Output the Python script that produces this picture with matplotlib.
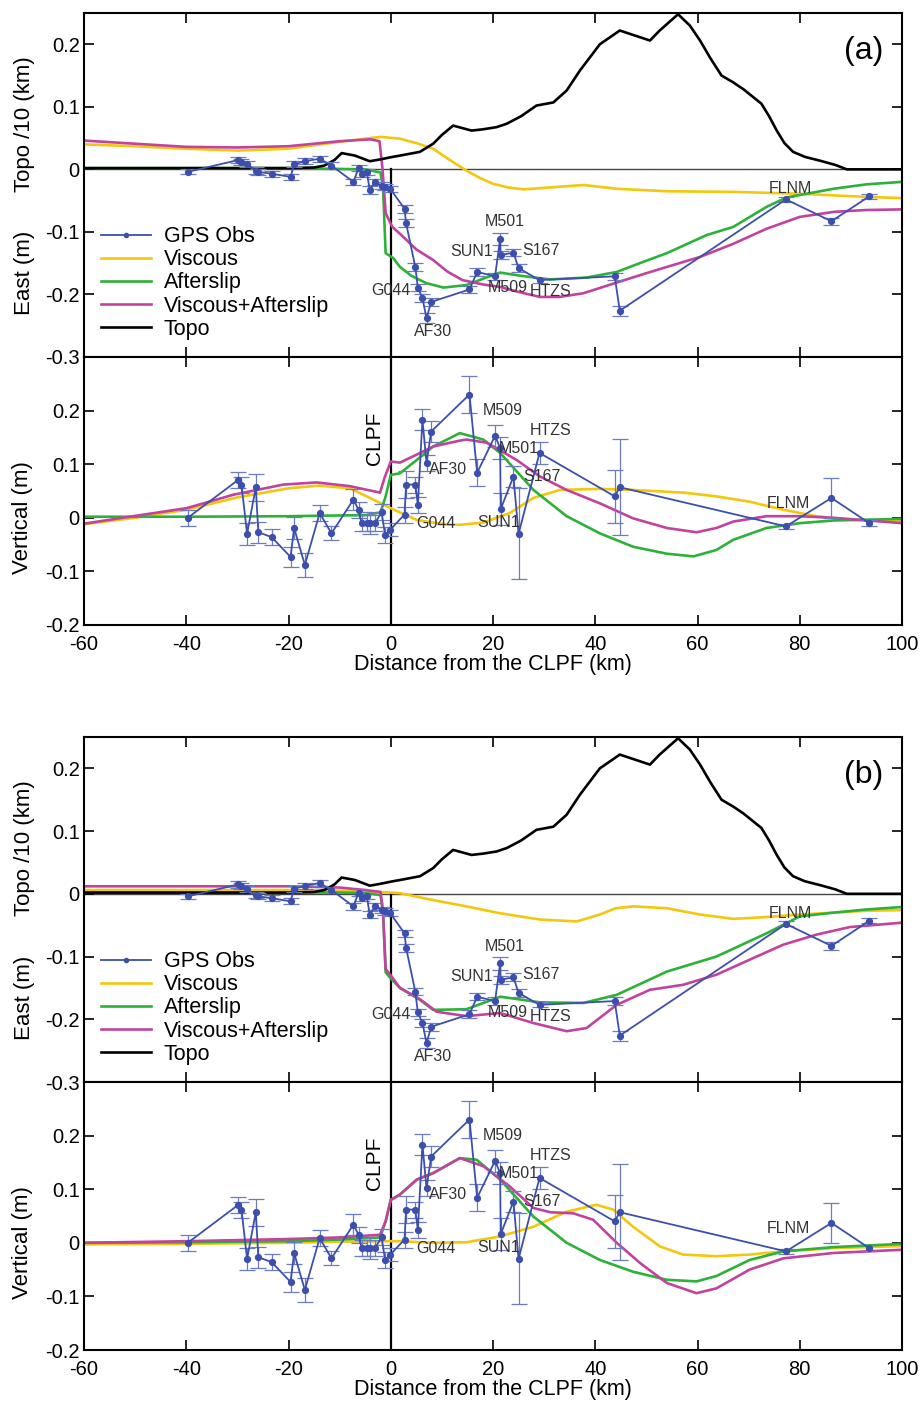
import matplotlib
matplotlib.use('Agg')
import matplotlib.pyplot as plt
import matplotlib.transforms as mtransforms

plt.rcParams['font.family'] = ['Liberation Sans', 'DejaVu Sans']
plt.rcParams['axes.unicode_minus'] = False

# GPS stations (distance from CLPF, km) with east / vertical displacement (m)
gps_x = [-39.7, -29.8, -29.2, -28.1, -26.4, -25.9, -23.3, -19.6, -18.9, -16.8,
         -13.9, -11.6, -7.3, -6.3, -5.7, -4.7, -4.1, -3.1, -1.8, -1.1, -0.1,
         2.7, 3.0, 4.8, 5.3, 6.2, 7.0, 7.9, 15.4, 16.9, 20.4, 21.4, 21.5, 24.0,
         25.0, 29.1, 43.8, 44.8, 77.3, 86.2, 93.6]
east_obs = [-0.004, 0.015, 0.012, 0.008, -0.002, -0.004, -0.007, -0.012, 0.008, 0.013,
            0.017, 0.006, -0.020, 0.002, -0.007, -0.004, -0.033, -0.020, -0.026, -0.028, -0.031,
            -0.063, -0.086, -0.156, -0.189, -0.206, -0.238, -0.212, -0.192, -0.164, -0.171, -0.111, -0.137, -0.133,
            -0.158, -0.177, -0.171, -0.226, -0.048, -0.083, -0.043]
east_err = [0.004, 0.005, 0.005, 0.005, 0.005, 0.005, 0.005, 0.005, 0.005, 0.005,
            0.005, 0.005, 0.005, 0.005, 0.005, 0.005, 0.006, 0.005, 0.005, 0.005, 0.005,
            0.006, 0.006, 0.006, 0.006, 0.006, 0.008, 0.006, 0.006, 0.006, 0.006, 0.010, 0.006, 0.006,
            0.006, 0.004, 0.006, 0.008, 0.004, 0.006, 0.004]
vert_obs = [0.000, 0.071, 0.062, -0.030, 0.057, -0.027, -0.036, -0.073, -0.019, -0.088,
            0.009, -0.029, 0.034, 0.015, -0.010, -0.010, -0.010, -0.010, 0.010, -0.032, -0.022,
            0.006, 0.062, 0.062, 0.024, 0.183, 0.102, 0.161, 0.230, 0.084, 0.153, 0.130, 0.016, 0.077,
            -0.030, 0.121, 0.040, 0.057, -0.016, 0.037, -0.010]
vert_err = [0.015, 0.015, 0.015, 0.020, 0.025, 0.020, 0.015, 0.018, 0.020, 0.022,
            0.015, 0.013, 0.020, 0.015, 0.015, 0.015, 0.020, 0.015, 0.015, 0.015, 0.012,
            0.015, 0.025, 0.015, 0.015, 0.020, 0.015, 0.020, 0.035, 0.025, 0.020, 0.020, 0.030, 0.020,
            0.085, 0.020, 0.050, 0.090, 0.004, 0.038, 0.005]

# station labels: name, x, y
east_labels = [('G044', 0.0, -0.193), ('AF30', 8.3, -0.260), ('SUN1', 15.8, -0.132),
               ('M501', 22.3, -0.084), ('S167', 29.4, -0.129), ('M509', 22.9, -0.189),
               ('HTZS', 31.2, -0.196), ('FLNM', 78.1, -0.031)]
vert_labels = [('G044', 8.9, -0.010), ('AF30', 11.3, 0.091), ('M509', 22.0, 0.200),
               ('HTZS', 31.2, 0.163), ('M501', 25.0, 0.130), ('S167', 29.5, 0.077),
               ('SUN1', 21.0, -0.009), ('FLNM', 77.8, 0.026)]

# topography / 10 (km)
topo_x = [-60, -40, -20, -15, -13, -11, -9.6, -7, -4.1, -2, 0.4, 1.8, 5.7, 8.3, 10, 12.2, 15.8,
          18, 20.7, 22.7, 25.5, 28.5, 31.8, 34.4, 37.0, 40.9, 44.8, 50.7, 52.6, 56.2, 58.5,
          60.5, 62.5, 64.7, 67.0, 69, 72.5, 74, 75.5, 77, 78.7, 81, 83.9, 87, 89.2, 91, 100]
topo_y = [0.002, 0.002, 0.002, 0.003, 0.006, 0.015, 0.026, 0.022, 0.013, 0.016, 0.020, 0.022,
          0.028, 0.041, 0.055, 0.070, 0.062, 0.064, 0.0675, 0.073, 0.085, 0.102, 0.107, 0.126,
          0.158, 0.200, 0.222, 0.206, 0.222, 0.248, 0.230, 0.206, 0.178, 0.150, 0.139, 0.128,
          0.105, 0.085, 0.062, 0.042, 0.028, 0.020, 0.014, 0.007, 0.0, 0.0, 0.0]

# ---- panel (a) model curves ----
a_east_visc_x = [-60, -50, -40, -30, -20, -10, -5, -2, 1.8, 5, 8.3, 11, 14.8, 17.5, 20, 23, 26,
                 31, 37.7, 44.2, 54, 67, 80, 93, 100]
a_east_visc_y = [0.040, 0.037, 0.033, 0.030, 0.033, 0.044, 0.049, 0.052, 0.049, 0.042, 0.033,
                 0.018, -0.002, -0.014, -0.023, -0.029, -0.032, -0.029, -0.025, -0.031, -0.035,
                 -0.036, -0.039, -0.044, -0.046]
a_east_after_x = [-60, -40, -20, -5, -2, -1.5, -1.0, 0.5, 1.8, 4, 5.7, 7.0, 10.3, 14.8, 18, 21.4,
                  25.3, 31.1, 38.3, 44.2, 50, 54, 61.8, 67, 73.5, 77.4, 82, 86.6, 93, 100]
a_east_after_y = [0.002, 0.002, 0.002, 0.0, -0.005, -0.030, -0.134, -0.142, -0.156, -0.170,
                  -0.177, -0.182, -0.189, -0.185, -0.175, -0.165, -0.170, -0.176, -0.173, -0.164,
                  -0.146, -0.134, -0.105, -0.092, -0.060, -0.045, -0.038, -0.031, -0.024, -0.020]
a_east_both_x = [-60, -50, -40, -30, -20, -10, -4, -2.2, -1.6, -1.0, 0.3, 1.8, 5, 8.3, 11, 14,
                 18, 21.4, 25, 29.2, 33, 37.7, 44.2, 50, 54, 60.5, 67, 73.5, 80, 86.6, 93, 100]
a_east_both_y = [0.046, 0.041, 0.036, 0.035, 0.037, 0.045, 0.048, 0.045, 0.000, -0.070, -0.092,
                 -0.103, -0.128, -0.145, -0.163, -0.177, -0.184, -0.188, -0.196, -0.204, -0.204,
                 -0.198, -0.181, -0.166, -0.156, -0.140, -0.119, -0.095, -0.076, -0.068, -0.065,
                 -0.064]
a_vert_visc_x = [-60, -50, -40, -30, -20, -14, -8, -4.7, 0, 1.8, 5.1, 8.3, 11.6, 13.5, 18.1, 23.3,
                 27.9, 33.1, 40.9, 47.4, 57.2, 63.7, 70.2, 76.8, 83.3, 89.8, 100]
a_vert_visc_y = [-0.012, 0.0, 0.015, 0.038, 0.055, 0.060, 0.055, 0.040, 0.018, 0.010, -0.004,
                 -0.009, -0.013, -0.013, -0.009, 0.009, 0.037, 0.052, 0.054, 0.052, 0.047, 0.040,
                 0.030, 0.015, 0.003, -0.004, -0.006]
a_vert_after_x = [-60, -40, -20, -5, -2, -1, 0, 1.8, 5.1, 8.3, 13.5, 18.1, 21.4, 27.9, 34.4, 40.9,
                  47.4, 54, 59.2, 63.7, 67, 73.5, 80, 86.6, 100]
a_vert_after_y = [0.002, 0.002, 0.003, 0.005, 0.010, 0.040, 0.080, 0.083, 0.108, 0.133, 0.158,
                  0.146, 0.121, 0.052, 0.003, -0.029, -0.054, -0.067, -0.072, -0.060, -0.041,
                  -0.019, -0.010, -0.005, -0.002]
a_vert_both_x = [-60, -50.4, -39.9, -30.8, -21, -14.5, -8, -2.1, -1.2, 0, 1.8, 5.1, 8.3, 13.5,
                 14.8, 18.8, 24.6, 29.2, 34.4, 40.9, 47.4, 54, 59.8, 63.7, 67, 73.5, 80, 86.6, 100]
a_vert_both_y = [-0.011, 0.003, 0.018, 0.043, 0.062, 0.066, 0.059, 0.047, 0.075, 0.105, 0.103,
                 0.118, 0.133, 0.144, 0.146, 0.140, 0.108, 0.077, 0.052, 0.027, -0.001, -0.019,
                 -0.027, -0.019, -0.007, 0.003, 0.003, 0.000, -0.010]

# ---- panel (b) model curves ----
b_east_visc_x = [-60, -40, -20, -10, -5, 0, 1.8, 8.3, 14.8, 21.4, 29.2, 36.4, 40.9, 44, 47.4, 54,
                 60.5, 67, 73.5, 80, 86.6, 93, 100]
b_east_visc_y = [0.006, 0.006, 0.006, 0.005, 0.004, 0.002, 0.001, -0.010, -0.020, -0.031, -0.041,
                 -0.044, -0.033, -0.023, -0.020, -0.023, -0.033, -0.040, -0.037, -0.033, -0.030,
                 -0.027, -0.026]
b_east_after_x = [-60, -40, -20, -10, -5, -2, -1.5, -1.0, 0, 1.8, 5.7, 8.3, 14.8, 21.4, 29.2, 37.7,
                  44.2, 54, 63.7, 73.5, 80, 86.6, 93, 100]
b_east_after_y = [0.002, 0.002, 0.002, 0.002, 0.001, -0.002, -0.030, -0.125, -0.135, -0.150,
                  -0.169, -0.185, -0.184, -0.164, -0.173, -0.174, -0.161, -0.124, -0.100, -0.063,
                  -0.036, -0.030, -0.025, -0.021]
b_east_both_x = [-60, -40, -20, -10, -5, -2, -1.5, -1.0, 0, 1.8, 5.7, 9, 14.8, 21.4, 27.9, 34.4,
                 38.3, 44.2, 50.7, 57.2, 63.7, 70.2, 76.8, 83.3, 89.8, 100]
b_east_both_y = [0.012, 0.012, 0.012, 0.010, 0.006, 0.003, -0.030, -0.120, -0.130, -0.150,
                 -0.168, -0.188, -0.195, -0.190, -0.206, -0.219, -0.214, -0.177, -0.153, -0.145,
                 -0.129, -0.105, -0.081, -0.065, -0.053, -0.046]
b_vert_visc_x = [-60, -40, -20, -10, 0, 1.8, 8.3, 14.8, 21.4, 27.9, 34.4, 40.2, 43.5, 47.4, 52.7,
                 57.2, 63.7, 70.2, 76.8, 86.6, 100]
b_vert_visc_y = [-0.003, -0.002, 0.0, 0.002, 0.003, 0.003, 0.0, 0.001, 0.012, 0.030, 0.058, 0.071,
                 0.062, 0.030, -0.007, -0.022, -0.025, -0.022, -0.016, -0.010, -0.006]
b_vert_after_x = [-60, -40, -20, -10, -2.1, -1, 0, 1.8, 5.1, 8.3, 13.5, 16.8, 21.4, 27.9, 34.4,
                  40.9, 47.4, 54, 59.8, 63.7, 70.2, 76.8, 86.6, 100]
b_vert_after_y = [0.0, 0.001, 0.003, 0.006, 0.010, 0.040, 0.080, 0.090, 0.118, 0.130, 0.158, 0.155,
                  0.118, 0.049, 0.0, -0.032, -0.054, -0.069, -0.072, -0.062, -0.032, -0.016,
                  -0.008, -0.002]
b_vert_both_x = [-60, -40, -20, -10, -2.1, -1, 0, 1.8, 5.1, 8.3, 13.5, 18.1, 23.3, 27.9, 31.2, 35.7,
                 39.6, 44.2, 48.8, 54, 59.8, 63.7, 70.2, 76.8, 86.6, 100]
b_vert_both_y = [0.0, 0.003, 0.007, 0.010, 0.015, 0.040, 0.080, 0.090, 0.118, 0.130, 0.158, 0.143,
                 0.105, 0.065, 0.057, 0.055, 0.043, 0.000, -0.038, -0.075, -0.094, -0.085, -0.050,
                 -0.029, -0.019, -0.013]

C_GPS = '#3D4FAD'
C_ERR = '#6D7AC4'
C_VISC = '#F3C70E'
C_AFTER = '#2DB138'
C_BOTH = '#C2439E'

fig = plt.figure(figsize=(9.22, 14.05), dpi=100)


def style(ax):
    ax.tick_params(direction='in', length=7, width=1.2, labelsize=14.5,
                   top=True, right=True, pad=3)
    ax.tick_params(axis='x', pad=7)
    for s in ax.spines.values():
        s.set_linewidth(1.5)
    ax.set_xlim(-60, 100)
    ax.set_xticks([-60, -40, -20, 0, 20, 40, 60, 80, 100])


def gps(ax, y, yerr):
    ax.errorbar(gps_x, y, yerr=yerr, fmt='none', ecolor=C_ERR, elinewidth=0.9,
                capsize=5.5, capthick=0.9, zorder=4)
    ax.plot(gps_x, y, '-o', color=C_GPS, lw=1.3, ms=4.2, zorder=5)


def panel(rect_top, rect_bot, tag, east_curves, vert_curves):
    ax1 = fig.add_axes(rect_top)
    ax2 = fig.add_axes(rect_bot)
    style(ax1)
    style(ax2)

    # top: topo and east
    ax1.set_ylim(-0.3, 0.25)
    ax1.set_yticks([-0.3, -0.2, -0.1, 0, 0.1, 0.2])
    ax1.set_yticklabels(['-0.3', '-0.2', '-0.1', '0', '0.1', '0.2'])
    ax1.tick_params(labelbottom=False)
    ax1.axhline(0, color='#444444', lw=1.0, zorder=1)
    ax1.plot([0, 0], [-0.3, 0], color='black', lw=1.6, zorder=1)
    (vx, vy), (ax_, ay), (bx, by) = east_curves
    ax1.plot(vx, vy, color=C_VISC, lw=1.9, label='Viscous', zorder=2)
    ax1.plot(ax_, ay, color=C_AFTER, lw=1.9, label='Afterslip', zorder=2)
    ax1.plot(bx, by, color=C_BOTH, lw=1.9, label='Viscous+Afterslip', zorder=2)
    ax1.plot(topo_x, topo_y, color='black', lw=1.9, label='Topo', zorder=3)
    gps(ax1, east_obs, east_err)
    for name, x, y in east_labels:
        ax1.text(x, y, name, fontsize=11.5, color='#333333', ha='center', va='center', zorder=6)
    ax1.text(92.5, 0.19, tag, fontsize=23, ha='center', va='center')

    h, l = ax1.get_legend_handles_labels()
    gps_handle = plt.Line2D([], [], color=C_GPS, lw=1.3, marker='o', ms=3)
    ax1.legend([gps_handle] + h, ['GPS Obs'] + l, loc='lower left',
               bbox_to_anchor=(0.0, 0.0), frameon=False, fontsize=15.5,
               handlelength=2.3, handletextpad=0.6, labelspacing=0.1, borderaxespad=0.4)

    tr1 = mtransforms.blended_transform_factory(ax1.transAxes, ax1.transData)
    ax1.text(-0.073, 0.073, 'Topo /10 (km)', rotation=90, fontsize=16,
             ha='center', va='center', transform=tr1)
    ax1.text(-0.073, -0.166, 'East (m)', rotation=90, fontsize=16,
             ha='center', va='center', transform=tr1)

    # bottom: vertical
    ax2.set_ylim(-0.2, 0.3)
    ax2.set_yticks([-0.2, -0.1, 0, 0.1, 0.2])
    ax2.set_yticklabels(['-0.2', '-0.1', '0', '0.1', '0.2'])
    ax2.axvline(0, color='black', lw=1.6, zorder=1)
    (vx, vy), (ax_, ay), (bx, by) = vert_curves
    ax2.plot(vx, vy, color=C_VISC, lw=1.9, zorder=2)
    ax2.plot(ax_, ay, color=C_AFTER, lw=1.9, zorder=2)
    ax2.plot(bx, by, color=C_BOTH, lw=1.9, zorder=2)
    gps(ax2, vert_obs, vert_err)
    for name, x, y in vert_labels:
        ax2.text(x, y, name, fontsize=11.5, color='#333333', ha='center', va='center', zorder=6)
    ax2.text(-3.2, 0.149, 'CLPF', rotation=90, fontsize=15, ha='center', va='center')
    tr2 = mtransforms.blended_transform_factory(ax2.transAxes, ax2.transData)
    ax2.text(-0.075, 0.0, 'Vertical (m)', rotation=90, fontsize=16,
             ha='center', va='center', transform=tr2)
    ax2.set_xticklabels(['-60', '-40', '-20', '0', '20', '40', '60', '80', '100'])
    ax2.set_xlabel('Distance from the CLPF (km)', fontsize=15.5, labelpad=0)


L, W = 84 / 922, 818 / 922
panel([L, 1 - 357 / 1405, W, 344 / 1405], [L, 1 - 625 / 1405, W, 268 / 1405], '(a)',
      [(a_east_visc_x, a_east_visc_y), (a_east_after_x, a_east_after_y), (a_east_both_x, a_east_both_y)],
      [(a_vert_visc_x, a_vert_visc_y), (a_vert_after_x, a_vert_after_y), (a_vert_both_x, a_vert_both_y)])
panel([L, 1 - 1082 / 1405, W, 345 / 1405], [L, 1 - 1350 / 1405, W, 268 / 1405], '(b)',
      [(b_east_visc_x, b_east_visc_y), (b_east_after_x, b_east_after_y), (b_east_both_x, b_east_both_y)],
      [(b_vert_visc_x, b_vert_visc_y), (b_vert_after_x, b_vert_after_y), (b_vert_both_x, b_vert_both_y)])

fig.savefig('out.png', dpi=100)
